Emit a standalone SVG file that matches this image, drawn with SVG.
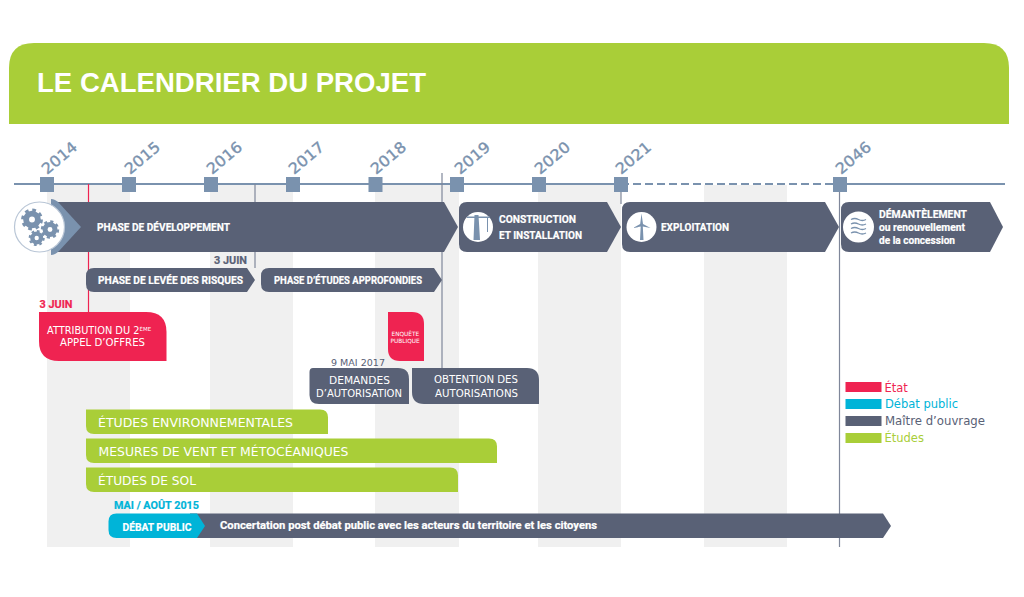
<svg xmlns="http://www.w3.org/2000/svg" xmlns:xlink="http://www.w3.org/1999/xlink" width="1024" height="597" viewBox="0 0 1024 597">
<style>
svg{font-size:11px}
.band{fill:#f0f0f0}
.dark{fill:#596176}
.green{fill:#a9ce38}
.red{fill:#ef2351}
.cyan{fill:#00b4d8}
.yr{font:400 15px "DejaVu Sans",sans-serif;fill:#7a92ae;stroke:#7a92ae;stroke-width:.35}
.sq{fill:#7a92ae}
.axis{stroke:#7a92ae;stroke-width:1.8;fill:none}
.vl{stroke:#7f879a;stroke-width:1.2;fill:none}
.b{font-family:Roboto,"Liberation Sans",sans-serif;font-weight:700;fill:#fff;stroke:#fff;stroke-width:.2}
.w{font-family:"DejaVu Sans",sans-serif;fill:#fff}
.lg{font-family:"DejaVu Sans",sans-serif;font-size:11.5px}
.ic{fill:#7a92ae}
</style>
<defs>
<g id="gear"><circle r=".62" fill="none" stroke="#7a92ae" stroke-width=".62"/><circle r="1" fill="none" stroke="#7a92ae" stroke-width=".3" stroke-dasharray="0.39 0.395"/></g>
</defs>
<path class="green" d="M9 124V68Q9 43 34 43H984Q1009 43 1009 68V124Z"/>
<text x="37" y="92" font-family="'Liberation Sans',sans-serif" font-weight="700" font-size="27" fill="#fff" textLength="389" lengthAdjust="spacingAndGlyphs">LE CALENDRIER DU PROJET</text>
<g id="bands">
<rect class="band" x="47" y="185" width="83" height="362"/>
<rect class="band" x="210" y="185" width="83" height="362"/>
<rect class="band" x="375" y="185" width="84" height="362"/>
<rect class="band" x="538" y="185" width="83" height="362"/>
<rect class="band" x="704" y="185" width="83" height="362"/>
</g>
<g id="connectors">
<path class="axis" d="M14 184H621"/>
<path class="axis" d="M621 184H840" stroke-dasharray="8 4"/>
<path class="axis" d="M840 184H1005"/>
<path d="M88.500 184V312" stroke="#ef2351" stroke-width="1.2" fill="none"/>
<path class="vl" d="M255 184V268"/>
<path class="vl" d="M442 173V368"/>
<path class="vl" d="M621 184V204"/>
<path class="vl" d="M839.500 184V547"/>
</g>
<g id="years">
<rect class="sq" x="40" y="177" width="14" height="15"/><text class="yr" transform="translate(47 175) rotate(-40)" textLength="41" lengthAdjust="spacingAndGlyphs">2014</text>
<rect class="sq" x="122" y="177" width="14" height="15"/><text class="yr" transform="translate(130 175) rotate(-40)" textLength="41" lengthAdjust="spacingAndGlyphs">2015</text>
<rect class="sq" x="204" y="177" width="14" height="15"/><text class="yr" transform="translate(212 175) rotate(-40)" textLength="41" lengthAdjust="spacingAndGlyphs">2016</text>
<rect class="sq" x="286" y="177" width="14" height="15"/><text class="yr" transform="translate(294 175) rotate(-40)" textLength="41" lengthAdjust="spacingAndGlyphs">2017</text>
<rect class="sq" x="368.500" y="177" width="14" height="15"/><text class="yr" transform="translate(376 175) rotate(-40)" textLength="41" lengthAdjust="spacingAndGlyphs">2018</text>
<rect class="sq" x="450" y="177" width="14" height="15"/><text class="yr" transform="translate(460 175) rotate(-40)" textLength="41" lengthAdjust="spacingAndGlyphs">2019</text>
<rect class="sq" x="532" y="177" width="14" height="15"/><text class="yr" transform="translate(540 175) rotate(-40)" textLength="41" lengthAdjust="spacingAndGlyphs">2020</text>
<rect class="sq" x="614" y="177" width="14" height="15"/><text class="yr" transform="translate(621 175) rotate(-40)" textLength="41" lengthAdjust="spacingAndGlyphs">2021</text>
<rect class="sq" x="833" y="177" width="14" height="15"/><text class="yr" transform="translate(841 175) rotate(-40)" textLength="41" lengthAdjust="spacingAndGlyphs">2046</text>
</g>
<g id="phase-developpement">
<path class="dark" d="M52 202H444L458 227L444 252H52Z"/>
<path class="ic" d="M51 199Q55 199 59 203L81 227L59 251Q55 255 51 255Z"/>
<circle cx="39.500" cy="227" r="25" fill="#fff" stroke="#b9c6d6" stroke-width="1.2"/>
<use xlink:href="#gear" href="#gear" transform="translate(32 219.500) scale(9.500)"/>
<use xlink:href="#gear" href="#gear" transform="translate(50 229.500) scale(8)"/>
<use xlink:href="#gear" href="#gear" transform="translate(36.700 238) scale(7)"/>
<text class="b" x="97" y="231" textLength="133" lengthAdjust="spacingAndGlyphs">PHASE DE DÉVELOPPEMENT</text>
</g>
<g id="construction">
<path class="dark" d="M467 202H607L621 227L607 252H467Q459 252 459 244V210Q459 202 467 202Z"/>
<circle cx="478" cy="227" r="15" fill="#fff"/>
<path class="ic" d="M467 216.500H490V218H467ZM474.500 215H478.500L480 240H473.500ZM487 218H488V232H487Z"/>
<text class="b" x="499" y="223" textLength="77" lengthAdjust="spacingAndGlyphs">CONSTRUCTION</text>
<text class="b" x="499" y="239" textLength="83" lengthAdjust="spacingAndGlyphs">ET INSTALLATION</text>
</g>
<g id="exploitation">
<path class="dark" d="M630 202H825L839 227L825 252H630Q622 252 622 244V210Q622 202 630 202Z"/>
<circle cx="641.500" cy="227" r="15" fill="#fff"/>
<path class="ic" d="M641.500 213.500L643 224L650.500 228L642.800 226.500L643.500 240H640L640.700 226.500L633 228L640.200 224Z"/>
<text class="b" x="661" y="231" textLength="68" lengthAdjust="spacingAndGlyphs">EXPLOITATION</text>
</g>
<g id="demantelement">
<path class="dark" d="M849 202H990L1003 227L990 252H849Q841 252 841 244V210Q841 202 849 202Z"/>
<circle cx="858.500" cy="227" r="15.500" fill="#fff"/>
<path d="M851 219.500q3.700-2 7.500 0t7.500 0M851 224q3.700-2 7.500 0t7.500 0M851 228.500q3.700-2 7.500 0t7.500 0M851 233q3.700-2 7.500 0t7.500 0" fill="none" stroke="#7a92ae" stroke-width="1.300"/>
<text class="b" x="879" y="218" textLength="88" lengthAdjust="spacingAndGlyphs">DÉMANTÈLEMENT</text>
<text class="b" x="879" y="231" font-size="10" textLength="86" lengthAdjust="spacingAndGlyphs">ou renouvellement</text>
<text class="b" x="879" y="244" font-size="10" textLength="76" lengthAdjust="spacingAndGlyphs">de la concession</text>
</g>
<g id="levee-risques">
<path class="dark" d="M94 268H247L255 280L247 292H94Q86 292 86 284V276Q86 268 94 268Z"/>
<text class="b" x="98" y="284" textLength="145" lengthAdjust="spacingAndGlyphs">PHASE DE LEVÉE DES RISQUES</text>
<text class="b" x="214" y="264" style="fill:#596176;stroke:#596176" textLength="33" lengthAdjust="spacingAndGlyphs">3 JUIN</text>
</g>
<g id="etudes-approfondies">
<path class="dark" d="M269 268H434L442 280L434 292H269Q261 292 261 284V276Q261 268 269 268Z"/>
<text class="b" x="274" y="284" textLength="148" lengthAdjust="spacingAndGlyphs">PHASE D’ÉTUDES APPROFONDIES</text>
</g>
<g id="attribution">
<path class="red" d="M39 312H146Q166.500 312 166.500 332V361H59Q39 361 39 341Z"/>
<text class="b" x="39.500" y="308" style="fill:#ef2351;stroke:#ef2351" textLength="33" lengthAdjust="spacingAndGlyphs">3 JUIN</text>
<text class="w" x="47" y="334" font-size="9.800">ATTRIBUTION DU 2<tspan font-size="5.500" dy="-3.500">ÈME</tspan></text>
<text class="w" x="60" y="346" font-size="9.800" textLength="85" lengthAdjust="spacingAndGlyphs">APPEL D’OFFRES</text>
</g>
<g id="enquete">
<path class="red" d="M388 312H412Q424 312 424 324V361H400Q388 361 388 349Z"/>
<text class="w" font-size="5.800"><tspan x="391.500" y="335.500">ENQUÊTE</tspan><tspan x="390.500" y="343">PUBLIQUE</tspan></text>
</g>
<g id="demandes">
<text x="331" y="366" font-family="'DejaVu Sans',sans-serif" font-size="8" fill="#596176" textLength="54" lengthAdjust="spacingAndGlyphs">9 MAI 2017</text>
<path class="dark" d="M313 368H398Q409 368 409 379V404H319Q309.500 404 309.500 395V372Q309.500 368 313 368Z"/>
<text class="w" x="329" y="384" font-size="10" textLength="61" lengthAdjust="spacingAndGlyphs">DEMANDES</text>
<text class="w" x="316" y="397" font-size="10" textLength="86" lengthAdjust="spacingAndGlyphs">D’AUTORISATION</text>
</g>
<g id="obtention">
<path class="dark" d="M412 368H527Q539 368 539 380V404H424Q412 404 412 392Z"/>
<text class="w" x="434" y="383" font-size="10" textLength="84" lengthAdjust="spacingAndGlyphs">OBTENTION DES</text>
<text class="w" x="435" y="397" font-size="10" textLength="83" lengthAdjust="spacingAndGlyphs">AUTORISATIONS</text>
</g>
<g id="etudes-env">
<path class="green" d="M86 409.500H320Q328 409.500 328 417.500V434H94Q86 434 86 426Z"/>
<text class="w" x="98" y="427" font-size="12.500" textLength="195" lengthAdjust="spacingAndGlyphs">ÉTUDES ENVIRONNEMENTALES</text>
</g>
<g id="mesures">
<path class="green" d="M86 438.500H489Q497 438.500 497 446.500V463H94Q86 463 86 455Z"/>
<text class="w" x="98.500" y="456" font-size="12.500" textLength="250" lengthAdjust="spacingAndGlyphs">MESURES DE VENT ET MÉTOCÉANIQUES</text>
</g>
<g id="etudes-sol">
<path class="green" d="M86 467.500H450Q458 467.500 458 475.500V492H94Q86 492 86 484Z"/>
<text class="w" x="98" y="485" font-size="12.500" textLength="98" lengthAdjust="spacingAndGlyphs">ÉTUDES DE SOL</text>
</g>
<g id="debat">
<text class="b" x="114" y="509" style="fill:#00b4d8;stroke:#00b4d8" textLength="85" lengthAdjust="spacingAndGlyphs">MAI / AOÛT 2015</text>
<path class="dark" d="M190 513.500H883L891 526L883 538H190Z"/>
<path class="cyan" d="M116.500 513.500H197L205 526L197 538H116.500Q108.500 538 108.500 530V521.500Q108.500 513.500 116.500 513.500Z"/>
<text class="b" x="122.500" y="531" textLength="69" lengthAdjust="spacingAndGlyphs">DÉBAT PUBLIC</text>
<text class="b" x="220" y="529" font-size="10.500" textLength="377" lengthAdjust="spacingAndGlyphs">Concertation post débat public avec les acteurs du territoire et les citoyens</text>
</g>
<g id="legende">
<rect class="red" x="845.500" y="382" width="36" height="10"/><text class="lg" x="884.500" y="392" fill="#ef2351">État</text>
<rect class="cyan" x="845.500" y="399" width="36" height="10"/><text class="lg" x="885" y="408" fill="#00b4d8">Débat public</text>
<rect class="dark" x="845.500" y="416" width="36" height="10"/><text class="lg" x="885" y="425" fill="#596176" textLength="100" lengthAdjust="spacingAndGlyphs">Maître d’ouvrage</text>
<rect class="green" x="845.500" y="433" width="36" height="10"/><text class="lg" x="884.500" y="442" fill="#a9ce38">Études</text>
</g>
</svg>
